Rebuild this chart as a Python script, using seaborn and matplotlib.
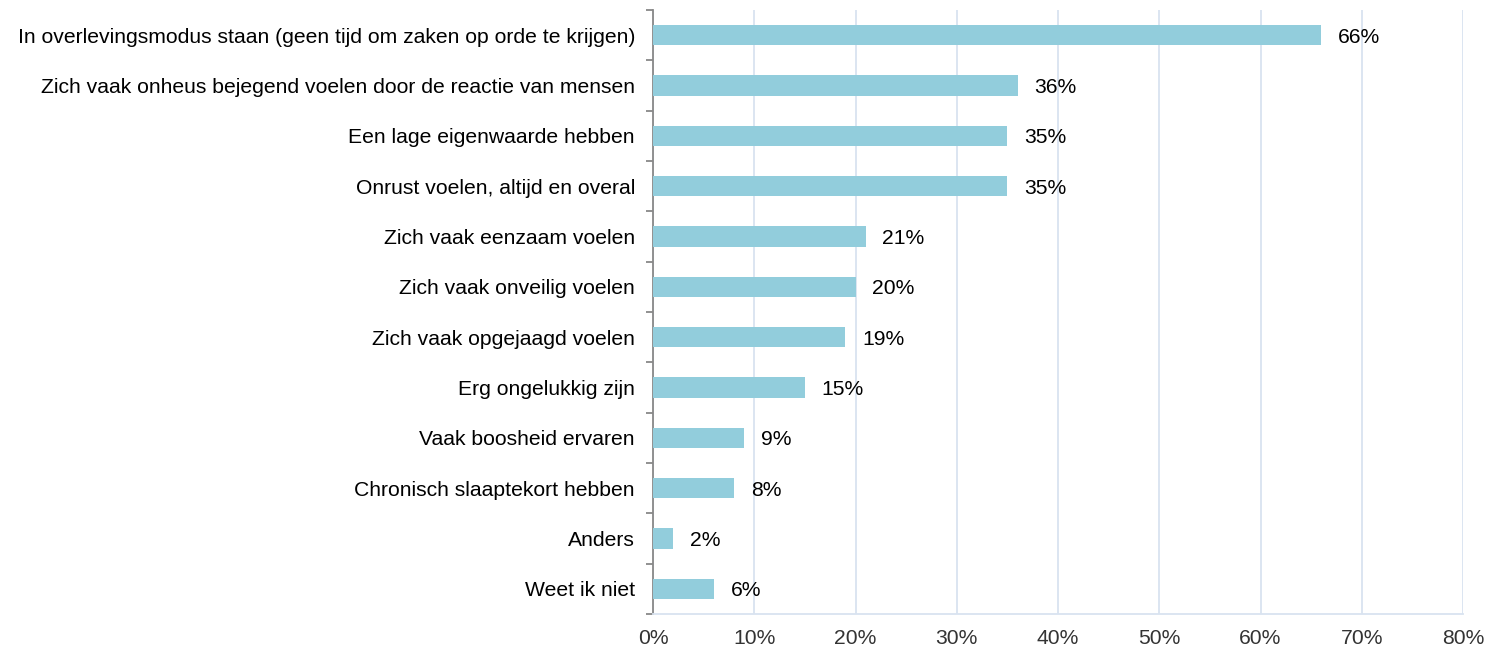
import matplotlib
matplotlib.use("Agg")
import matplotlib.pyplot as plt
import seaborn as sns
import pandas as pd
import numpy as np
from matplotlib.ticker import FixedLocator, PercentFormatter

categories = [
    "In overlevingsmodus staan (geen tijd om zaken op orde te krijgen)",
    "Zich vaak onheus bejegend voelen door de reactie van mensen",
    "Een lage eigenwaarde hebben",
    "Onrust voelen, altijd en overal",
    "Zich vaak eenzaam voelen",
    "Zich vaak onveilig voelen",
    "Zich vaak opgejaagd voelen",
    "Erg ongelukkig zijn",
    "Vaak boosheid ervaren",
    "Chronisch slaaptekort hebben",
    "Anders",
    "Weet ik niet",
]
values = [66, 36, 35, 35, 21, 20, 19, 15, 9, 8, 2, 6]

df = pd.DataFrame({"cat": categories, "val": values})

sns.set_theme(style="white")
plt.rcParams["font.family"] = ["Liberation Sans", "DejaVu Sans"]

fig = plt.figure(figsize=(14.95, 6.5), dpi=100)
ax = fig.add_axes([653 / 1495, 1 - 614 / 650, (1463 - 653) / 1495, (614 - 10) / 650])

sns.barplot(data=df, y="cat", x="val", orient="h", color="#92CDDC",
            saturation=1, width=0.4, linewidth=0, edgecolor="none", ax=ax, zorder=3)

ax.set_xlim(0, 80)
ax.set_ylim(len(categories) - 0.5, -0.5)
ax.set_xticks(np.arange(0, 81, 10))
ax.xaxis.set_major_formatter(PercentFormatter(decimals=0))
ax.grid(axis="x", color="#D9E3F0", linewidth=1.3, zorder=0)
ax.grid(axis="y", visible=False)

for c in ax.containers:
    texts = ax.bar_label(c, labels=[f"{v}%" for v in values], padding=12,
                         fontsize=15.2, color="#000000")
    for t in texts:
        t.set_va("center_baseline")

ax.set_xlabel("")
ax.set_ylabel("")
ax.tick_params(axis="x", length=0, pad=11, labelsize=15.2, labelcolor="#333333")
ax.tick_params(axis="y", which="major", left=False, length=0, pad=13,
               labelsize=15.2, labelcolor="#000000")
ax.yaxis.set_minor_locator(FixedLocator(np.arange(-0.5, len(categories), 1)))
ax.tick_params(axis="y", which="minor", left=True, length=5, width=1.3, color="#888888")

for s in ["top", "right"]:
    ax.spines[s].set_visible(False)
ax.spines["left"].set_color("#888888")
ax.spines["left"].set_linewidth(1.3)
ax.spines["bottom"].set_color("#D9E3F0")
ax.spines["bottom"].set_linewidth(1.3)

fig.savefig("out.png", dpi=100)
